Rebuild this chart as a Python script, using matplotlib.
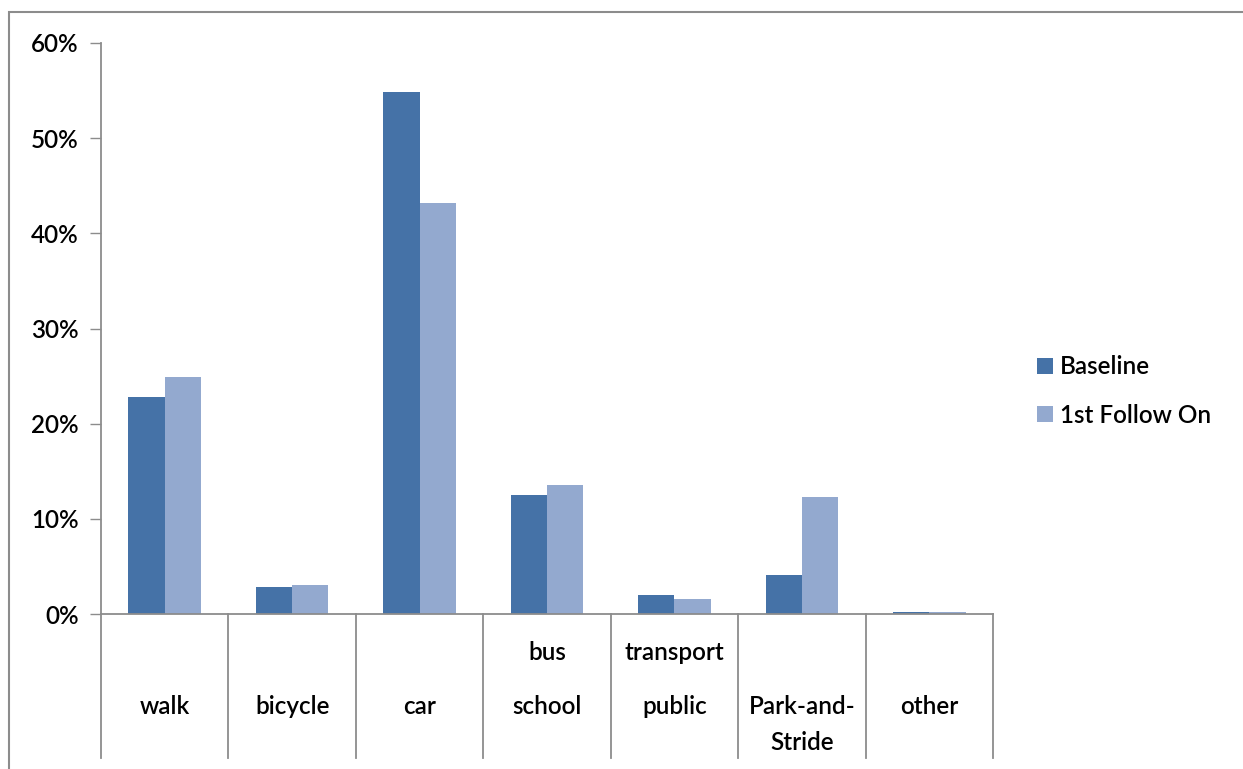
import numpy as np
import matplotlib.pyplot as plt
from matplotlib.patches import Rectangle

categories = ["walk", "bicycle", "car", "bus school", "transport public", "Park-and-Stride", "other"]
# label lines per category: (text, pixel row in the reference)
label_lines = [
    [("walk", 707)],
    [("bicycle", 707)],
    [("car", 707)],
    [("bus", 652), ("school", 707)],
    [("transport", 652), ("public", 707)],
    [("Park-and-", 707), ("Stride", 742)],
    [("other", 707)],
]
baseline = [22.8, 2.8, 54.8, 12.5, 2.0, 4.1, 0.2]
follow_on = [24.9, 3.0, 43.2, 13.6, 1.6, 12.3, 0.2]
series_names = ["Baseline", "1st Follow On"]
colors = ["#4572A7", "#93A9CF"]
yticks = [0, 10, 20, 30, 40, 50, 60]

W, H = 1243, 769
FS = 17.5
WT = "semibold"
fig = plt.figure(figsize=(W / 100, H / 100), dpi=100)
plt.rcParams['font.family'] = ['Lato', 'DejaVu Sans']

# outer chart border (cropped on right/bottom)
fig.add_artist(Rectangle((9 / W, -0.05), 1.2, (H - 12) / H + 0.05, transform=fig.transFigure,
                         fill=False, edgecolor="#8c8c8c", linewidth=1.5))

x0, x1, y0, y1 = 101, 993, 614, 43
ax = fig.add_axes([x0 / W, (H - y0) / H, (x1 - x0) / W, (y0 - y1) / H])

x = np.arange(len(categories))
w = 0.285
ax.bar(x - w / 2, baseline, w, color=colors[0], label=series_names[0])
ax.bar(x + w / 2, follow_on, w, color=colors[1], label=series_names[1])

ax.set_xlim(-0.5, len(categories) - 0.5)
ax.set_ylim(0, 60)
ax.set_yticks(yticks)
ax.set_yticklabels([f"{t}%" for t in yticks], fontsize=FS, fontweight=WT)
ax.tick_params(axis="y", length=8, width=1, color="#8c8c8c", pad=8)
ax.set_xticks([])

for s in ["top", "right"]:
    ax.spines[s].set_visible(False)
for s in ["left", "bottom"]:
    ax.spines[s].set_color("#8c8c8c")
    ax.spines[s].set_linewidth(1.3)

# long category separators below the axis
ext = (758 - y0) / (y0 - y1)
for b in np.arange(-0.5, len(categories), 1.0):
    ax.plot([b, b], [0, -ext], transform=ax.get_xaxis_transform(), color="#8c8c8c",
            lw=1.3, clip_on=False)

for i, lines in enumerate(label_lines):
    for txt, py in lines:
        ax.text(i, -(py - y0) / (y0 - y1), txt, transform=ax.get_xaxis_transform(),
                ha="center", va="center", fontsize=FS, fontweight=WT)

leg = fig.legend(loc="center left", bbox_to_anchor=(1027 / W, (H - 391) / H), frameon=False,
                 prop={"size": FS, "weight": WT}, handlelength=0.66, handleheight=0.66,
                 handletextpad=0.3, labelspacing=1.05, borderaxespad=0)

fig.savefig("out.png", dpi=100)
